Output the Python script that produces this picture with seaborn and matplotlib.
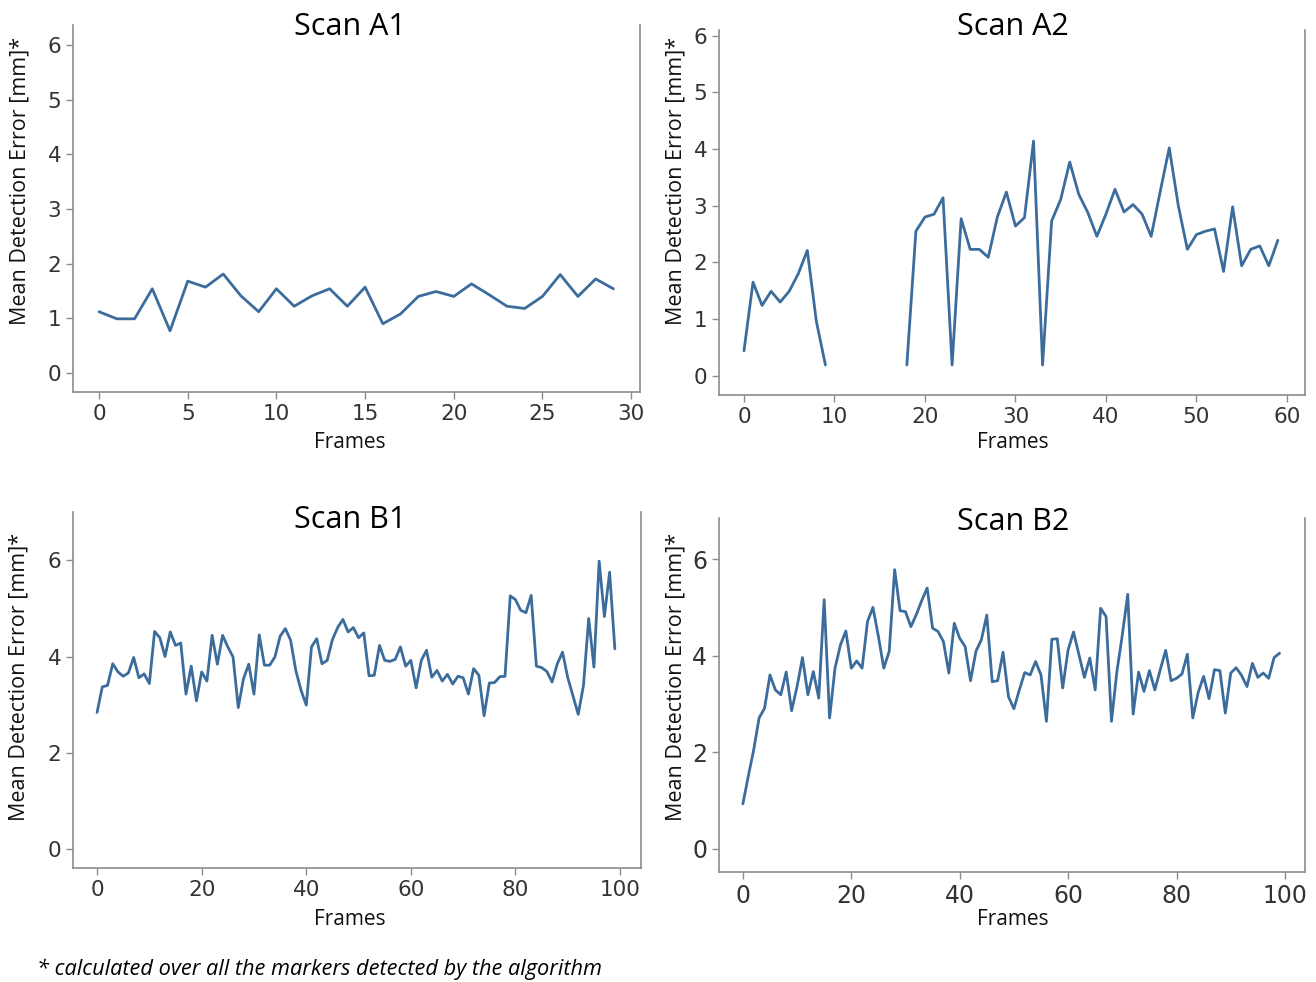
import numpy as np
import pandas as pd
import seaborn as sns
import matplotlib.pyplot as plt

# values
a1_err = [1.12, 0.99, 0.99, 1.54, 0.77, 1.68, 1.57, 1.81, 1.41, 1.12,
          1.54, 1.22, 1.41, 1.54, 1.22, 1.57, 0.90, 1.08, 1.40, 1.49,
          1.40, 1.63, 1.43, 1.22, 1.18, 1.40, 1.80, 1.40, 1.72, 1.54]

a2_err = [0.44, 1.65, 1.24, 1.49, 1.30, 1.49, 1.80, 2.21, 0.96, 0.19,
          np.nan, np.nan, np.nan, np.nan, np.nan, np.nan, np.nan, np.nan,
          0.19, 2.55, 2.80, 2.85, 3.14, 0.19, 2.77, 2.23, 2.23, 2.09, 2.80, 3.24,
          2.64, 2.79, 4.14, 0.19, 2.73, 3.11, 3.77, 3.20, 2.88, 2.46,
          2.85, 3.29, 2.89, 3.02, 2.85, 2.46, 3.25, 4.02, 3.00, 2.23,
          2.49, 2.55, 2.59, 1.84, 2.98, 1.94, 2.23, 2.29, 1.94, 2.39]

b1_err = [2.84, 3.37, 3.40, 3.85, 3.68, 3.59, 3.66, 3.98, 3.56, 3.64,
          3.44, 4.52, 4.39, 4.00, 4.51, 4.23, 4.28, 3.22, 3.80, 3.08,
          3.68, 3.49, 4.44, 3.84, 4.44, 4.20, 3.99, 2.94, 3.54, 3.84,
          3.22, 4.45, 3.82, 3.82, 3.99, 4.42, 4.58, 4.34, 3.71, 3.30,
          2.99, 4.20, 4.37, 3.85, 3.92, 4.35, 4.60, 4.77, 4.51, 4.60,
          4.39, 4.49, 3.60, 3.61, 4.23, 3.92, 3.90, 3.94, 4.20, 3.80,
          3.92, 3.35, 3.92, 4.13, 3.57, 3.71, 3.49, 3.63, 3.43, 3.59,
          3.56, 3.22, 3.75, 3.61, 2.77, 3.45, 3.46, 3.58, 3.59, 5.26,
          5.18, 4.96, 4.91, 5.27, 3.80, 3.77, 3.69, 3.47, 3.85, 4.09,
          3.56, 3.18, 2.80, 3.40, 4.79, 3.78, 5.98, 4.83, 5.75, 4.16]

b2_err = [0.93, 1.50, 2.05, 2.71, 2.91, 3.60, 3.29, 3.19, 3.66, 2.86,
          3.36, 3.96, 3.19, 3.67, 3.12, 5.16, 2.71, 3.74, 4.22, 4.51,
          3.74, 3.89, 3.74, 4.71, 5.00, 4.40, 3.74, 4.09, 5.78, 4.93,
          4.91, 4.60, 4.85, 5.14, 5.40, 4.57, 4.50, 4.29, 3.64, 4.67,
          4.36, 4.19, 3.48, 4.09, 4.33, 4.84, 3.46, 3.48, 4.07, 3.15,
          2.90, 3.29, 3.65, 3.60, 3.88, 3.60, 2.64, 4.34, 4.35, 3.33,
          4.12, 4.49, 4.02, 3.55, 3.95, 3.29, 4.98, 4.81, 2.64, 3.67,
          4.43, 5.27, 2.79, 3.66, 3.26, 3.69, 3.29, 3.71, 4.11, 3.48,
          3.53, 3.62, 4.03, 2.71, 3.24, 3.57, 3.11, 3.71, 3.69, 2.81,
          3.64, 3.75, 3.59, 3.36, 3.84, 3.55, 3.64, 3.53, 3.96, 4.05]

titles = ["Scan A1", "Scan A2", "Scan B1", "Scan B2"]
series = [a1_err, a2_err, b1_err, b2_err]
xticks = [np.arange(0, 31, 5), np.arange(0, 61, 10), np.arange(0, 101, 20), np.arange(0, 101, 20)]
yticks = [np.arange(0, 7, 1), np.arange(0, 7, 1), np.arange(0, 7, 2), np.arange(0, 7, 2)]

sns.set_theme(style="ticks")
plt.rcParams["font.family"] = ["DejaVu Sans"]

W, H = 1316, 982
fig = plt.figure(figsize=(W / 100, H / 100), dpi=100)

# pixel boxes: left, right, bottom, top ; axis limits
boxes = [(73, 640, 392, 25), (719, 1305, 395, 30), (73, 641, 868, 512), (719, 1305, 872, 518)]
xlims = [(-1.47, 30.5), (-2.76, 62.0), (-4.6, 104.0), (-4.4, 103.7)]
ylims = [(-0.35, 6.37), (-0.34, 6.1), (-0.39, 7.0), (-0.48, 6.85)]
title_pos = [(350, 27), (1013, 27), (350, 520), (1013, 522)]
ylabel_mid = [181, 181, 677, 677]
xlabel_top = [432, 432, 909, 909]
tick_size = [15.5, 15.5, 15.5, 17]
line_color = "#3b6c9c"
spine_color = "#8c8c8c"

for i in range(4):
    l, r, b, t = boxes[i]
    ax = fig.add_axes([l / W, 1 - b / H, (r - l) / W, (b - t) / H])
    y = np.array(series[i], dtype=float)
    df = pd.DataFrame({"frame": np.arange(len(y)), "err": y})
    df["seg"] = np.cumsum(np.isnan(y))
    df = df.dropna()
    sns.lineplot(data=df, x="frame", y="err", units="seg", estimator=None,
                 color=line_color, linewidth=2.0, ax=ax)
    ax.set_xlim(*xlims[i])
    ax.set_ylim(*ylims[i])
    ax.set_xticks(xticks[i])
    ax.set_yticks(yticks[i])
    ax.spines["top"].set_visible(False)
    for s in ["left", "right", "bottom"]:
        ax.spines[s].set_visible(True)
        ax.spines[s].set_color(spine_color)
        ax.spines[s].set_linewidth(1.2)
    ax.tick_params(axis="both", labelsize=tick_size[i], labelcolor="#333333", color=spine_color, length=5, width=1.0)
    ax.set_xlabel("Frames", fontsize=15, family="Open Sans", color="#111111")
    ax.set_ylabel("Mean Detection Error [mm]*", fontsize=15.5, family="Open Sans", color="#111111")
    cx = 350 if i % 2 == 0 else 1013
    ax.xaxis.set_label_coords((cx - l) / (r - l), -(xlabel_top[i] - b) / (b - t))
    right_edge = 30 if i % 2 == 0 else 686
    ax.yaxis.set_label_coords(-(l - right_edge) / (r - l), (b - ylabel_mid[i]) / (b - t))
    ax.grid(False)
    tx, ty = title_pos[i]
    fig.text(tx / W, 1 - ty / H, titles[i], ha="center", va="center", fontsize=22, family="Open Sans", color="black")

fig.text(37 / W, 1 - 969 / H, "* calculated over all the markers detected by the algorithm",
         ha="left", va="center", fontsize=15.7, family="Open Sans", style="italic", color="black")

fig.savefig("out.png", dpi=100, facecolor="white")
